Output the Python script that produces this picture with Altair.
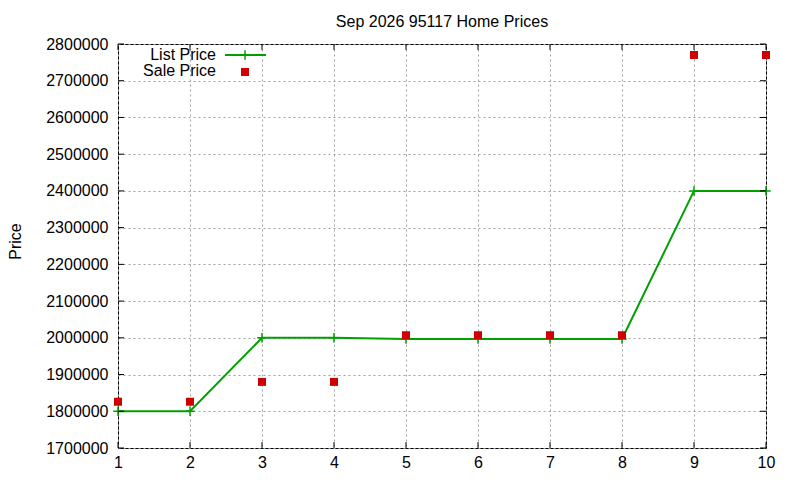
import altair as alt
import pandas as pd

# ---- data ----
months = [1, 2, 3, 4, 5, 6, 7, 8, 9, 10]
list_price = [1800000, 1800000, 2000000, 2000000, 1997000, 1997000, 1997000, 1997000, 2400000, 2400000]
sale_price = [1826000, 1826000, 1880000, 1880000, 2007000, 2007000, 2007000, 2007000, 2770000, 2770000]
x_ticks = [1, 2, 3, 4, 5, 6, 7, 8, 9, 10]
y_ticks = [1700000, 1800000, 1900000, 2000000, 2100000, 2200000, 2300000, 2400000, 2500000, 2600000, 2700000, 2800000]

title_text = "Sep 2026 95117 Home Prices"
y_title = "Price"
legend_labels = ["List Price", "Sale Price"]

GREEN = "#00a000"
RED = "#cc0000"
FONT = "Liberation Sans"
W, H = 648, 404

df = pd.DataFrame({"month": months, "list": list_price, "sale": sale_price})
df_yt = pd.DataFrame({"ty": y_ticks})
df_xt = pd.DataFrame({"tx": x_ticks})

x_axis = alt.Axis(values=x_ticks, title=None, format="d", labelFlush=False)
y_axis = alt.Axis(values=y_ticks, title=y_title, format="d", labelFlush=False,
                  titleX=-103, titleY=197, titleAngle=270,
                  titleAlign="center", titleBaseline="middle")
x_scale = alt.Scale(domain=[1, 10], nice=False, zero=False)
y_scale = alt.Scale(domain=[1700000, 2800000], nice=False, zero=False)


def X(field):
    return alt.X(f"{field}:Q", scale=x_scale, axis=x_axis)


def Y(field):
    return alt.Y(f"{field}:Q", scale=y_scale, axis=y_axis)


cross = "M-1,0L1,0M0,-1L0,1"

base = alt.Chart(df)
list_line = base.mark_line(color=GREEN, strokeWidth=2).encode(x=X("month"), y=Y("list"))
list_pts = base.mark_point(shape=cross, stroke=GREEN, filled=False, size=90,
                           strokeWidth=1.5, opacity=1).encode(x=X("month"), y=Y("list"))
sale_pts = base.mark_square(color=RED, size=64, opacity=1).encode(x=X("month"), y=Y("sale"))

# inward ticks (gnuplot style), left/right and bottom/top
yt = alt.Chart(df_yt)
ytick_l = yt.mark_rule(color="black", strokeWidth=1).encode(y=Y("ty"), x=alt.value(0), x2=alt.value(6))
ytick_r = yt.mark_rule(color="black", strokeWidth=1).encode(y=Y("ty"), x=alt.value(W - 6), x2=alt.value(W))
xt = alt.Chart(df_xt)
xtick_b = xt.mark_rule(color="black", strokeWidth=1).encode(x=X("tx"), y=alt.value(H - 6), y2=alt.value(H))
xtick_t = xt.mark_rule(color="black", strokeWidth=1).encode(x=X("tx"), y=alt.value(0), y2=alt.value(6))

# legend (gnuplot style: label left of the sample)
leg_df = pd.DataFrame({"k": [0]})
leg = alt.Chart(leg_df)
leg_t1 = leg.mark_text(text=legend_labels[0], font=FONT, fontSize=16, align="right",
                       baseline="middle", color="black").encode(x=alt.value(98), y=alt.value(11))
leg_t2 = leg.mark_text(text=legend_labels[1], font=FONT, fontSize=16, align="right",
                       baseline="middle", color="black").encode(x=alt.value(98), y=alt.value(27))
leg_line = leg.mark_rule(color=GREEN, strokeWidth=2).encode(
    x=alt.value(107), x2=alt.value(148), y=alt.value(11))
leg_cross = leg.mark_point(shape=cross, stroke=GREEN, filled=False, size=90,
                           strokeWidth=1.5, opacity=1).encode(x=alt.value(127), y=alt.value(11))
leg_sq = leg.mark_square(color=RED, size=64, opacity=1).encode(x=alt.value(127), y=alt.value(28))

chart = alt.layer(
    list_line, list_pts, sale_pts,
    ytick_l, ytick_r, xtick_b, xtick_t,
    leg_line, leg_cross, leg_sq, leg_t1, leg_t2,
).properties(
    width=W, height=H,
    title=alt.TitleParams(title_text, font=FONT, fontSize=16, fontWeight="normal",
                          color="black", anchor="middle", frame="group",
                          baseline="alphabetic", offset=17, dy=24),
    autosize=alt.AutoSizeParams(type="none"),
    padding={"left": 110, "top": 36, "right": 26, "bottom": 24},
).configure_view(
    stroke="black", strokeWidth=1
).configure_axis(
    labelFont=FONT, labelFontSize=16, labelColor="black",
    titleFont=FONT, titleFontSize=16, titleFontWeight="normal", titleColor="black",
    ticks=False, domain=False,
    grid=True, gridColor="#a0a0a0", gridDash=[2, 3], gridWidth=1, gridOpacity=1,
).configure_axisX(
    labelPadding=6
).configure_axisY(
    labelPadding=10
)

chart.save("out.html", embed_options={"renderer": "svg", "actions": False})
